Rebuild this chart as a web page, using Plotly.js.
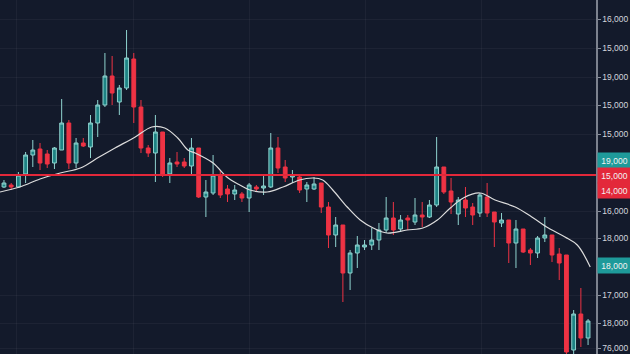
<!DOCTYPE html>
<html>
<head>
<meta charset="utf-8">
<script src="https://cdn.plot.ly/plotly-3.0.1.min.js"></script>
<style>
html,body{margin:0;padding:0;background:#131a2b;}
#chart{width:630px;height:354px;}
</style>
</head>
<body>
<div id="chart"></div>
<script>
// Candle data (price units)
const opens  = [167,169,167,180,199,205,200,191,204,231,191,211,207,231,249,278,252,266,295,247,206,201,222,180,192,192,188,206,157,161,179,165,160,160,156,167,166,167,206,187,177,177,165,165,171,147,119,129,81,101,107,109,114,124,136,125,136,132,139,137,149,187,163,140,154,147,141,157,142,131,134,111,125,104,101,116,119,100,99,4,40,16];
const closes = [171,167,179,199,204,191,190,206,231,191,211,208,231,249,278,261,266,296,247,206,201,222,179,191,190,188,206,157,162,179,159,160,164,156,169,165,168,206,186,176,179,164,169,170,147,119,129,81,101,109,109,114,124,136,124,134,134,139,137,149,187,162,152,154,146,139,159,141,132,134,111,125,102,101,116,119,99,91,2,40,16,33];
const highs  = [174,171,182,202,214,211,204,207,255,234,216,216,239,254,301,298,269,324,301,254,209,239,222,196,202,196,216,206,174,199,184,169,169,162,171,169,179,221,217,194,184,178,172,177,171,152,137,129,104,118,114,126,131,157,152,139,139,156,152,154,217,187,176,157,167,151,161,171,142,141,134,134,125,106,118,137,119,106,99,44,66,35];
const lows   = [166,164,166,171,187,184,186,185,204,185,186,207,196,217,247,249,239,264,231,201,197,172,177,171,187,186,179,156,137,159,156,152,154,152,142,162,159,166,181,172,171,161,152,164,141,106,107,52,64,86,104,104,104,121,119,122,124,129,127,136,147,160,140,129,137,129,137,137,107,127,91,86,101,89,96,112,92,74,0,0,7,9];
const candleIndex = opens.map((_, i) => i);

// Moving average line (read points: candle position, price)
const maX = [-0.55,2.2,5,7.8,10.6,13.2,15.4,18.2,20.5,22.3,24.1,25.5,26.5,29,30.9,32.7,34.1,36.5,38.7,41,42.9,44.2,45.6,47.6,49.4,51.2,53.1,55.9,58.1,60.1,61.9,63.7,66,68.1,70.9,73.2,75.5,77.8,79.5,81.3];
const maY = [162,167,175,181,186,197,206,217,227,226,216,204,201,191,177,169,164,162,167,174,176,174,164,147,134,126,121,124,126,134,146,156,161,154,147,137,126,117,109,87];

// Horizontal level line
const levelPrice = 179;

// Right axis tick positions and labels
const tickPrices = [335,306,277,249,220,143,116,59,31,6];
const tickLabels = ["16,000","15,000","19,000","15,000","15,000","16,000","18,000","17,000","18,000","76,000"];

// Price badges on the right axis
const badgePrices = [194,179,164,89];
const badgeLabels = ["19,000","15,000","14,000","18,000"];
const badgeColors = ["#1e9a9a","#e3283a","#e3283a","#1e9a9a"];

const traces = [
  {
    type: 'candlestick',
    x: candleIndex, open: opens, high: highs, low: lows, close: closes,
    increasing: {line: {color: '#8fd3cf', width: 1}, fillcolor: '#1d8384'},
    decreasing: {line: {color: '#ee3344', width: 1}, fillcolor: '#ee3344'},
    whiskerwidth: 0,
    hoverinfo: 'skip',
    showlegend: false
  },
  {
    type: 'scatter', mode: 'lines',
    x: maX, y: maY,
    line: {color: '#dcdcdc', width: 1.2, shape: 'spline', smoothing: 1},
    hoverinfo: 'skip', showlegend: false
  }
];

const annotations = badgePrices.map((p, i) => ({
  xref: 'paper', yref: 'y', x: 1, y: p,
  xanchor: 'left', yanchor: 'middle', xshift: 1,
  text: badgeLabels[i], showarrow: false,
  font: {family: 'Liberation Sans, Arial, sans-serif', size: 8.5, color: '#f2f2f2'},
  bgcolor: badgeColors[i], borderpad: 2, width: 29, height: 11, align: 'center'
}));

const layout = {
  width: 630, height: 354,
  paper_bgcolor: '#131a2b', plot_bgcolor: '#131a2b',
  margin: {l: 0, r: 34, t: 0, b: 0},
  boxgap: 0.25,
  xaxis: {
    range: [-0.55, 82.1], rangeslider: {visible: false},
    showticklabels: false, ticks: '', zeroline: false,
    showgrid: true, gridcolor: 'rgba(255,255,255,0.045)', tick0: 1.8, dtick: 16.1,
    fixedrange: true
  },
  yaxis: {
    range: [0, 354], side: 'right',
    tickmode: 'array', tickvals: tickPrices, ticktext: tickLabels,
    ticks: 'outside', ticklen: 3, tickcolor: '#8a909c',
    ticklabeloverflow: 'allow',
    tickfont: {family: 'Liberation Sans, Arial, sans-serif', size: 8.5, color: '#d2d6de'},
    showline: true, linecolor: '#7c828e', linewidth: 1.5,
    showgrid: true, gridcolor: 'rgba(255,255,255,0.045)', zeroline: false,
    fixedrange: true
  },
  shapes: [{
    type: 'line', xref: 'paper', yref: 'y', x0: 0, x1: 1, y0: levelPrice, y1: levelPrice,
    line: {color: '#e3283a', width: 2}
  }],
  annotations: annotations,
  showlegend: false
};

Plotly.newPlot('chart', traces, layout, {displayModeBar: false, staticPlot: true});
</script>
</body>
</html>
